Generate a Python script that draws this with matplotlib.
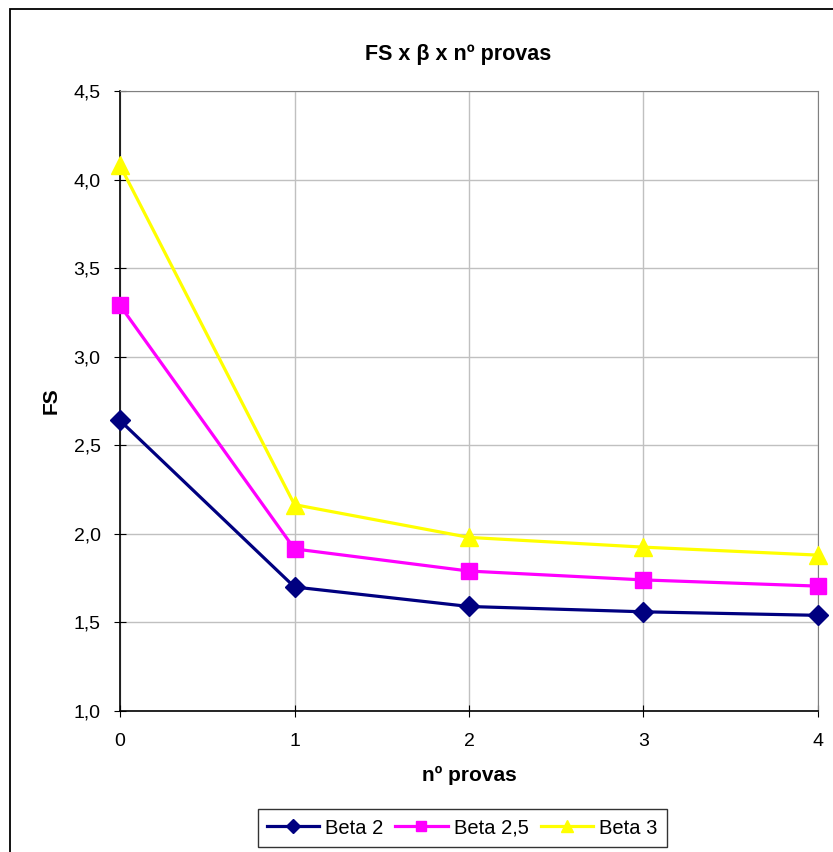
import numpy as np
import matplotlib.pyplot as plt
from matplotlib.patches import Rectangle

plt.rcParams['font.family'] = ['Liberation Sans', 'DejaVu Sans']

# data
provas = [0, 1, 2, 3, 4]
beta_2 = [2.64, 1.70, 1.59, 1.56, 1.54]
beta_25 = [3.29, 1.915, 1.79, 1.74, 1.705]
beta_3 = [4.08, 2.165, 1.98, 1.925, 1.88]
y_ticks = [1.0, 1.5, 2.0, 2.5, 3.0, 3.5, 4.0, 4.5]
y_labels = ['1,0', '1,5', '2,0', '2,5', '3,0', '3,5', '4,0', '4,5']

fig = plt.figure(figsize=(8.33, 8.52), dpi=100)
ax = fig.add_axes([120/833, 1-711/852, (818-120)/833, (711-91)/852])

# outer chart frame (cut at right/bottom like the reference)
fig.patches.append(Rectangle((10/833, -0.05), 1.2, (852-9)/852 + 0.05,
                             transform=fig.transFigure, fill=False,
                             edgecolor='black', lw=1.3, clip_on=False))

ax.plot(provas, beta_2, color='#000080', lw=2.3, marker='D', ms=10, label='Beta 2', clip_on=False, zorder=5)
ax.plot(provas, beta_25, color='#FF00FF', lw=2.3, marker='s', ms=11, label='Beta 2,5', clip_on=False, zorder=5)
ax.plot(provas, beta_3, color='#FFFF00', lw=2.3, marker='^', ms=13, label='Beta 3', clip_on=False, zorder=5)

ax.set_xlim(0, 4)
ax.set_ylim(1.0, 4.5)
ax.set_xticks(provas)
ax.set_yticks(y_ticks)
ax.set_yticklabels(y_labels)
ax.grid(True, color='#c0c0c0', lw=1)
ax.set_axisbelow(True)
ax.tick_params(labelsize=14, direction='inout', length=8, color='black')
ax.tick_params(axis='y', pad=10)
ax.tick_params(axis='x', pad=12)

for s in ['top', 'right']:
    ax.spines[s].set_color('#808080')
for s in ['left', 'bottom']:
    ax.spines[s].set_color('black')
    ax.spines[s].set_linewidth(1.2)

# title sits a bit left of the axes centre in the original
ax.set_title('FS x β x nº provas', fontsize=15.5, fontweight='bold', pad=22, x=(458-120)/698)
ax.set_xlabel('nº provas', fontsize=15, fontweight='bold', labelpad=11)
ax.set_ylabel('FS', fontsize=15, fontweight='bold', labelpad=9)

leg = fig.legend(loc='center', bbox_to_anchor=(462/833, 1-828/852), ncol=3,
                 fontsize=14.5, frameon=True, fancybox=False, edgecolor='black',
                 handlelength=2.6, handletextpad=0.3, columnspacing=0.6,
                 borderpad=0.45, markerscale=0.7)
leg.get_frame().set_linewidth(1.0)

fig.savefig('out.png', dpi=100)
